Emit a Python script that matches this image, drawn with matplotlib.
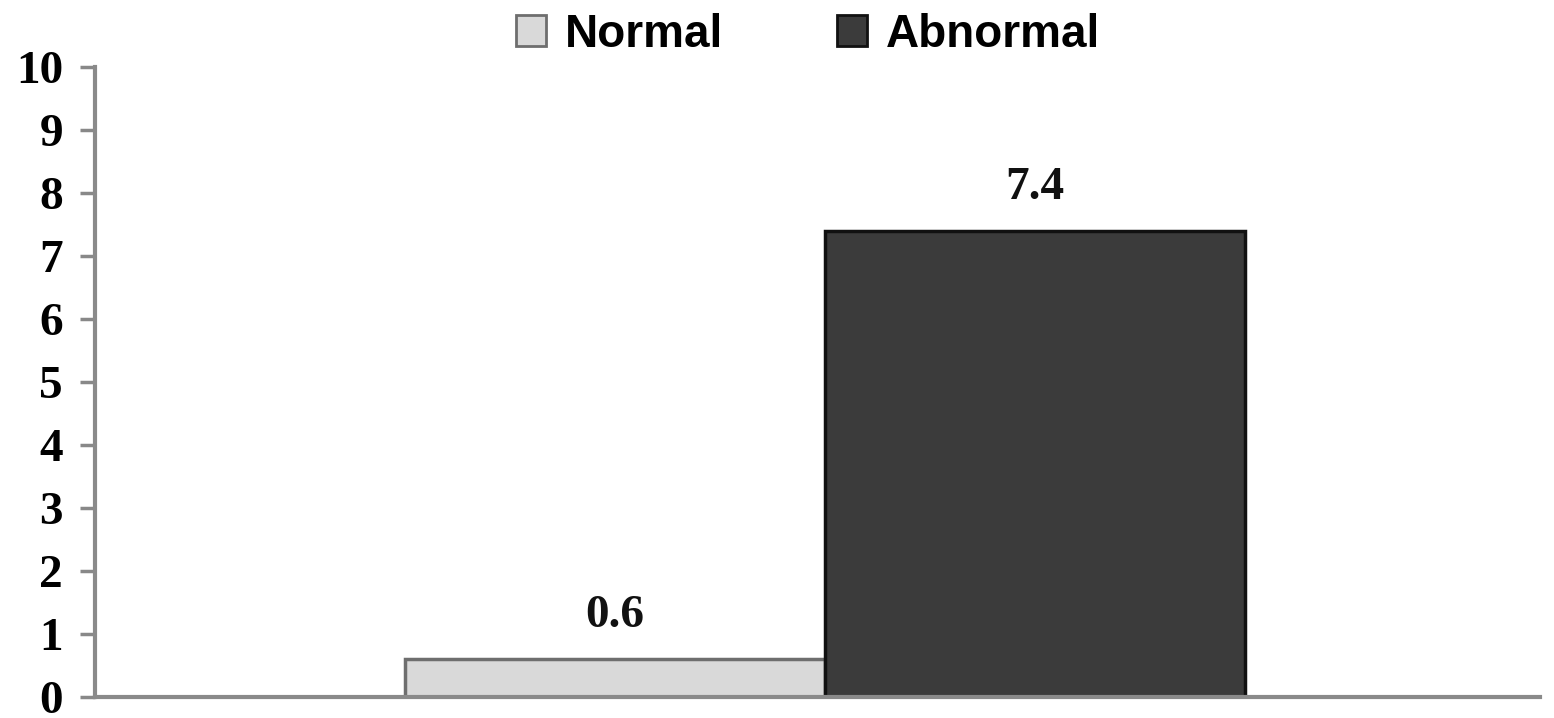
import matplotlib
matplotlib.use("Agg")
import matplotlib.pyplot as plt
from matplotlib.patches import Patch

categories = ["Normal", "Abnormal"]
values = [0.6, 7.4]
labels = ["0.6", "7.4"]
yticks = list(range(0, 11))

face = ["#d9d9d9", "#3b3b3b"]
edge = ["#6e6e6e", "#111111"]

fig = plt.figure(figsize=(15.54, 7.18), dpi=100)
ax = fig.add_axes([95 / 1554, 1 - 697 / 718, (1540 - 95) / 1554, (697 - 67) / 718])

x = list(range(len(categories)))
bars = ax.bar(x, values, width=1.0, color=face, edgecolor=edge, linewidth=2.5)

for xi, v, lab in zip(x, values, labels):
    ax.text(xi, v + 0.35, lab, ha="center", va="bottom",
            fontsize=34, fontweight="bold", family="Liberation Serif", color="#111111")

ax.set_xlim(-1.238, 2.202)
ax.set_ylim(0, 10)
ax.set_yticks(yticks)
ax.set_xticks([])
for t in ax.get_yticklabels():
    t.set_family("Liberation Serif")
    t.set_fontweight("bold")
    t.set_fontsize(34)
ax.tick_params(axis="y", direction="out", length=11, width=2.5, color="#888888", pad=12)

for s in ["top", "right"]:
    ax.spines[s].set_visible(False)
ax.spines["left"].set_color("#8a8a8a")
ax.spines["left"].set_linewidth(3)
ax.spines["bottom"].set_color("#8a8a8a")
ax.spines["bottom"].set_linewidth(3)
ax.spines["bottom"].set_zorder(3)

handles = [Patch(facecolor=face[i], edgecolor=edge[i], linewidth=2, label=categories[i])
           for i in range(2)]
fig.legend(handles=handles, loc="upper center", bbox_to_anchor=(0.52, 1.04), ncol=2,
           frameon=False, prop={"family": "Liberation Sans", "weight": "bold", "size": 33},
           handlelength=0.65, handleheight=0.65, handletextpad=0.4, columnspacing=2.5)

fig.savefig("out.png", dpi=100, facecolor="white")
